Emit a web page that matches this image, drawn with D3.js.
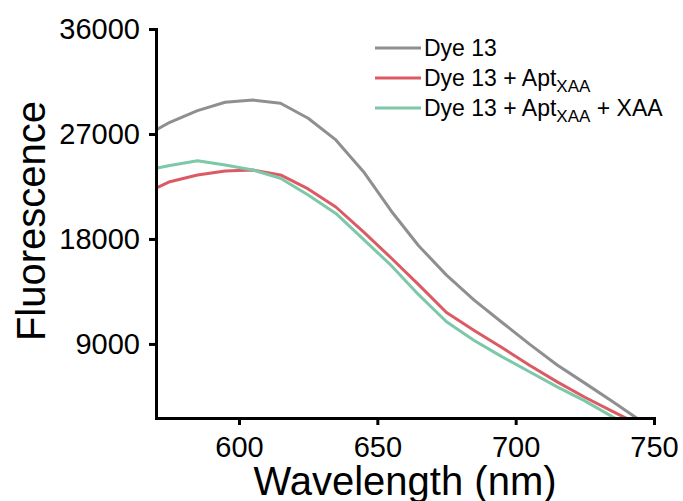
<!DOCTYPE html>
<html>
<head>
<meta charset="utf-8">
<script src="https://cdn.jsdelivr.net/npm/d3@7"></script>
<style>
  body { margin: 0; background: #fff; }
  svg { display: block; font-family: "Liberation Sans", Arial, sans-serif; }
  .axis path, .axis line { stroke: #000; stroke-width: 3px; }
  .axis text { fill: #000; font-size: 29px; }
</style>
</head>
<body>
<div class="container"></div>
<script>
// emission spectra
var wavelengths = [570, 575, 585, 595, 605, 615, 625, 635, 645, 655, 665, 675, 685, 695, 705, 715, 725, 735, 745];
var dye = [27340, 28000, 29000, 29720, 29910, 29630, 28350, 26490, 23770, 20400, 17400, 14900, 12760, 10860, 8980, 7200, 5640, 4060, 2440];
var dyeApt = [22350, 22910, 23490, 23830, 23910, 23490, 22290, 20740, 18600, 16370, 14060, 11700, 10160, 8690, 7180, 5750, 4430, 3220, 2030];
var dyeAptXaa = [24060, 24300, 24710, 24340, 23910, 23200, 21770, 20190, 17960, 15730, 13200, 10900, 9300, 7910, 6620, 5320, 4120, 2750, 1560];

var seriesNames = ["Dye 13", "Dye 13 + Apt", "Dye 13 + Apt"];
var seriesSubs = ["", "XAA", "XAA"];
var seriesTails = ["", "", " + XAA"];
var seriesColors = ["#8f8f8f", "#dc5a63", "#7cc8a9"];

var xTicks = [600, 650, 700, 750];
var yTicks = [9000, 18000, 27000, 36000];

const WIDTH = 683;
const HEIGHT = 501;
const LEFT = 156, TOP = 29, RIGHT = 654, BOTTOM = 418;

var translate = function(x, y){
	return "translate(" + x + "," + y + ")";
};

var svg = d3.select('.container').append('svg')
	.attr('width', WIDTH)
	.attr('height', HEIGHT);

var xScale = d3.scaleLinear()
	.domain([570, 750])
	.range([LEFT, RIGHT]);

var yScale = d3.scaleLinear()
	.domain([2650, 36000])
	.range([BOTTOM, TOP]);

svg.append('clipPath').attr('id', 'plotClip')
	.append('rect')
	.attr('x', LEFT).attr('y', TOP)
	.attr('width', RIGHT - LEFT).attr('height', BOTTOM - TOP);

var series = [dye, dyeApt, dyeAptXaa];

var line = d3.line()
	.x(function(d, i){ return xScale(wavelengths[i]); })
	.y(function(d){ return yScale(d); });

var lines = svg.append('g').attr('clip-path', 'url(#plotClip)');
series.forEach(function(s, k){
	lines.append('path')
		.attr('d', line(s))
		.attr('fill', 'none')
		.attr('stroke', seriesColors[k])
		.attr('stroke-width', 3)
		.attr('stroke-linejoin', 'round');
});

// axes
svg.append('g')
	.classed('axis', true)
	.attr('transform', translate(0, BOTTOM))
	.call(d3.axisBottom(xScale).tickValues(xTicks).tickFormat(d3.format('d'))
		.tickSize(7).tickSizeOuter(0).tickPadding(11));

svg.append('g')
	.classed('axis', true)
	.attr('transform', translate(LEFT, 0))
	.call(d3.axisLeft(yScale).tickValues(yTicks).tickFormat(d3.format('d'))
		.tickSize(7).tickSizeOuter(0).tickPadding(9));

svg.selectAll('.axis path').attr('stroke-linecap', 'square');

svg.append('text')
	.attr('x', (LEFT + RIGHT) / 2)
	.attr('y', 495)
	.attr('text-anchor', 'middle')
	.attr('font-size', 40)
	.text('Wavelength (nm)');

svg.append('text')
	.attr('transform', translate(45, 221) + ' rotate(-90)')
	.attr('text-anchor', 'middle')
	.attr('font-size', 40)
	.text('Fluorescence');

// legend
var legend = svg.append('g').attr('transform', translate(375, 48));
seriesNames.forEach(function(name, k){
	var row = legend.append('g').attr('transform', translate(0, k * 30));
	row.append('line')
		.attr('x1', 0).attr('x2', 46)
		.attr('stroke', seriesColors[k])
		.attr('stroke-width', 3);
	var t = row.append('text')
		.attr('x', 49)
		.attr('y', 8)
		.attr('font-size', 23);
	t.append('tspan').text(name);
	if (seriesSubs[k]) {
		t.append('tspan').attr('font-size', 17).attr('dy', 6).text(seriesSubs[k]);
		if (seriesTails[k]) t.append('tspan').attr('dy', -6).text(seriesTails[k]);
	}
});
</script>
</body>
</html>
